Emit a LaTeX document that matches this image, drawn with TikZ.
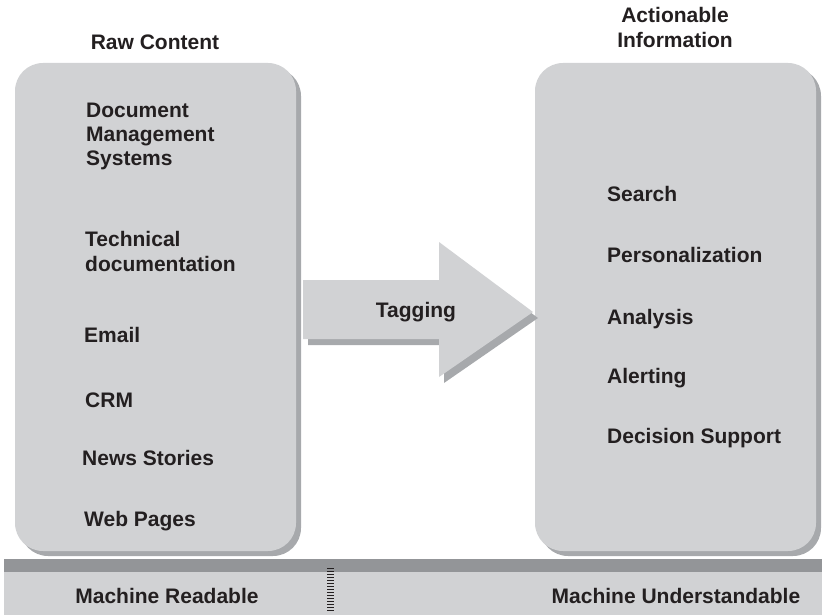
\documentclass[tikz,border=0pt]{standalone}
\usepackage{fontspec}
\setmainfont{Liberation Sans}
\definecolor{boxgray}{HTML}{D1D2D4}
\definecolor{shadowgray}{HTML}{A7A9AC}
\definecolor{bandgray}{HTML}{939598}
\definecolor{ink}{HTML}{231F20}
\tikzset{
  lbl/.style={anchor=base west, inner sep=0pt, text=ink, font=\fontsize{21}{25}\selectfont\bfseries},
  clbl/.style={anchor=base, inner sep=0pt, text=ink, font=\fontsize{21}{25}\selectfont\bfseries, align=center},
  panel/.style={fill=boxgray, rounded corners=28pt},
  panelshadow/.style={fill=shadowgray, rounded corners=28pt},
}
\begin{document}
\begin{tikzpicture}[x=1pt,y=-1pt]
\useasboundingbox (0,0) rectangle (822,615);
% panels
\fill[panelshadow] (20,68) rectangle (301,556);
\fill[panel] (15,63) rectangle (296,551);
\fill[panelshadow] (540,68) rectangle (821,556);
\fill[panel] (535,63) rectangle (816,551);
% arrow
\fill[shadowgray] (308,286) -- (444,286) -- (444,248) -- (538,318) -- (444,383) -- (444,345) -- (308,345) -- cycle;
\fill[boxgray] (303,280) -- (439,280) -- (439,242) -- (533,312) -- (439,377) -- (439,339) -- (303,339) -- cycle;
\node[clbl] (tag) at (416,317) {Tagging};
% bottom band
\fill[bandgray] (4,559) rectangle (822,572);
\fill[boxgray] (4,572) rectangle (822,615);
\foreach \i in {0,...,14} {
  \draw[ink, line width=0.9pt] (327,568+3*\i) -- (334,568+3*\i);
}
% headings
\node[clbl] (raw) at (155,50) {Raw Content};
\node[clbl] (act1) at (675,23) {Actionable};
\node[clbl] (act2) at (675,48) {Information};
% left items
\node[lbl] (dms1) at (86,118) {Document};
\node[lbl] (dms2) at (86,142) {Management};
\node[lbl] (dms3) at (86,166) {Systems};
\node[lbl] (tech1) at (85,246) {Technical};
\node[lbl] (tech2) at (85,271) {documentation};
\node[lbl] (email) at (84,342) {Email};
\node[lbl] (crm) at (85,407) {CRM};
\node[lbl] (news) at (82,465) {News Stories};
\node[lbl] (web) at (84,526) {Web Pages};
% right items
\node[lbl] (search) at (607,201) {Search};
\node[lbl] (pers) at (607,262) {Personalization};
\node[lbl] (anal) at (607,324) {Analysis};
\node[lbl] (alert) at (607,383) {Alerting};
\node[lbl] (dec) at (607,443) {Decision Support};
% bottom labels
\node[clbl] (mr) at (167,603) {Machine Readable};
\node[clbl] (mu) at (676,603) {Machine Understandable};
\end{tikzpicture}
\end{document}
